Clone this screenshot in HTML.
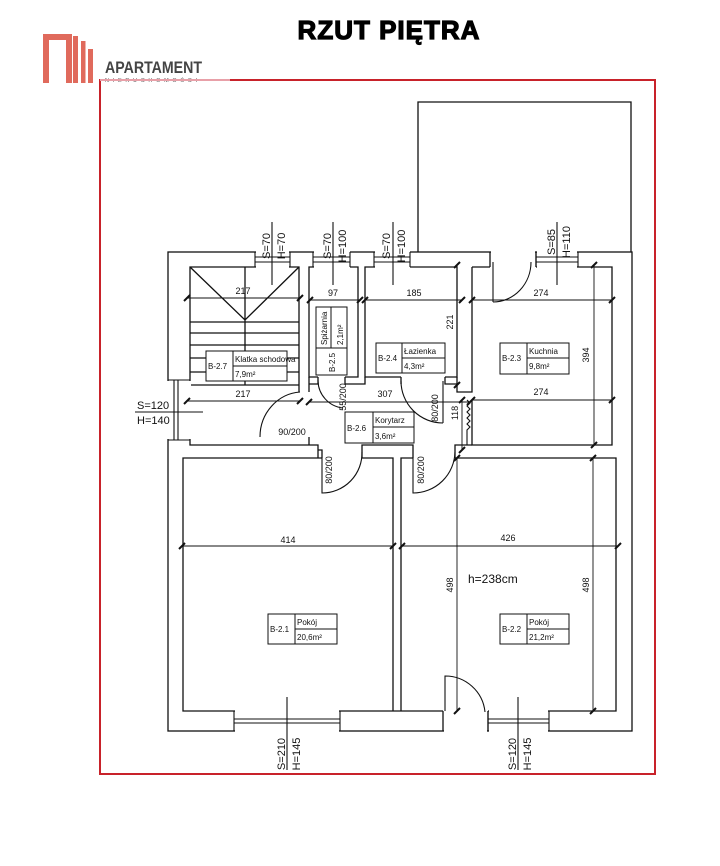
<!DOCTYPE html>
<html><head><meta charset="utf-8"><style>
html,body{margin:0;padding:0;background:#fff;}
svg{display:block;}
text{font-family:"Liberation Sans",sans-serif;fill:#111;}
</style></head><body>
<svg width="720" height="866" viewBox="0 0 720 866" xmlns="http://www.w3.org/2000/svg">
<!-- title -->
<text x="389" y="39" font-size="26" font-weight="bold" text-anchor="middle" stroke="#000" stroke-width="1.2" style="letter-spacing:1px;fill:#000">RZUT PIĘTRA</text>
<!-- logo -->
<path d="M43,83 V34 H72 V83 H66 V40 H49 V83 Z" fill="#e06a5c"/>
<rect x="73" y="36" width="5" height="47" fill="#e06a5c"/>
<rect x="81" y="41" width="4.5" height="42" fill="#e06a5c"/>
<rect x="88" y="49" width="5" height="34" fill="#e06a5c"/>
<text x="105" y="73" font-size="17" font-weight="bold" style="fill:#444" textLength="97" lengthAdjust="spacingAndGlyphs">APARTAMENT</text>
<text x="105" y="82" font-size="5.5" style="fill:#555" textLength="92" lengthAdjust="spacing">NIERUCHOMOŚCI</text>
<!-- red frame -->
<rect x="100" y="80" width="555" height="694" fill="none" stroke="#c8222a" stroke-width="2"/>
<rect x="100" y="79" width="130" height="2" fill="#e8a0a8"/>

<g stroke="#111" stroke-width="1.3" fill="none">
<path d="M418,252 V102 H631 V252"/>
<rect x="168" y="252" width="464" height="479"/>
<path d="M299,392 V267 H190 V445 H318 V458"/>
<path d="M318,377 H309 V267 H358 V377 H345"/>
<path d="M401,377 H365 V267 H457 V377 H445"/>
<path d="M309,377 V392 M309,437 V445 M318,377 V384 H309 M345,377 V384 H365 V377 M401,377 V384 M445,377 V384 H457 V377"/>
<path d="M457,384 V392 H472 V267"/>
<path d="M472,400 V445 H612 V267 H536 M490,267 H472"/>
<path d="M490,252 V267 M536,252 V267"/>
<path d="M362,458 V445 H413 V458 M455,458 V445 H472"/>
<path d="M322,458 V450 H318"/>
<path d="M322,458 H183 V711 H443 M488,711 H616 V458 H455 M413,458 H401 V711 M393,711 V458 H362"/>
<path d="M443,711 V731 M488,711 V731"/>
<path d="M190,267 L245,320 L299,267 M245,267 V385 M190,322 H299 M190,333 H299 M190,345 H299 M190,358 H299 M190,372 H299 M190,385 H299"/>
</g>
<g fill="#fff">
<rect x="256" y="251" width="33" height="17"/>
<rect x="314" y="251" width="36" height="17"/>
<rect x="375" y="251" width="35" height="17"/>
<rect x="491" y="251" width="44" height="17"/>
<rect x="537" y="251" width="40" height="17"/>
<rect x="167" y="381" width="24" height="58"/>
<rect x="235" y="710" width="104" height="22"/>
<rect x="489" y="710" width="59" height="22"/>
<rect x="444" y="710" width="43" height="22"/>
</g>
<g stroke="#111" stroke-width="1.1" fill="none">
<path d="M255,252 V267 M290,252 V267 M255,257 H290 M255,262 H290"/>
<path d="M313,252 V267 M350,252 V267 M313,257 H350 M313,262 H350"/>
<path d="M374,252 V267 M410,252 V267 M374,257 H410 M374,262 H410"/>
<path d="M536,252 V267 M578,252 V267 M536,257 H578 M536,262 H578"/>
<path d="M168,380 H190 M168,440 H190 M174,380 V440 M178,380 V440"/>
<path d="M234,711 V731 M340,711 V731 M234,719 H340 M234,723 H340"/>
<path d="M488,711 V731 M549,711 V731 M488,719 H549 M488,723 H549"/>
<path d="M493,262 V302 M493,302 A38,40 0 0 0 531,262"/>
<path d="M260,437 A43,45 0 0 1 300,392"/>
<path d="M318,380 A28,28 0 0 0 343,408"/>
<path d="M443,381 V423 M401,381 A42,42 0 0 0 443,423"/>
<path d="M322,458 V493 A40,40 0 0 0 362,452"/>
<path d="M413,458 V493 A42,42 0 0 0 455,452"/>
<path d="M445,711 V676 A40,40 0 0 1 485,712"/>
<path d="M467,400 l3,3 l-3,3 l3,3 l-3,3 l3,3 l-3,3 l3,3 l-3,3 l3,3 l-3,3 V445"/>
<path d="M272,222 V285 M333,222 V285 M393,222 V285 M557,222 V285 M287,697 V770 M518,697 V770 M135,412 H203"/>
</g>
<g stroke="#111" stroke-width="0.9">
<path d="M187,298 H300 M310,300 H360 M365,300 H462 M472,300 H612 M187,401 H300 M309,402 H470 M472,400 H612 M182,546 H393 M402,546 H618 M457,265 V385 M462,400 V450 M594,265 V445 M457,458 V711 M593,458 V711"/>
</g>
<g stroke="#111" stroke-width="2">
<path d="M184,301 l6,-6 M297,301 l6,-6 M307,303 l6,-6 M357,303 l6,-6 M362,303 l6,-6 M459,303 l6,-6 M469,303 l6,-6 M609,303 l6,-6
M184,404 l6,-6 M297,404 l6,-6 M306,405 l6,-6 M467,405 l6,-6 M469,403 l6,-6 M609,403 l6,-6
M179,549 l6,-6 M390,549 l6,-6 M399,549 l6,-6 M615,549 l6,-6
M454,268 l6,-6 M454,388 l6,-6 M459,403 l6,-6 M459,453 l6,-6 M591,268 l6,-6 M591,448 l6,-6
M454,461 l6,-6 M454,714 l6,-6 M590,461 l6,-6 M590,714 l6,-6"/>
</g>
<g font-size="9">
<text x="243" y="294" text-anchor="middle">217</text>
<text x="333" y="296" text-anchor="middle">97</text>
<text x="414" y="296" text-anchor="middle">185</text>
<text x="541" y="296" text-anchor="middle">274</text>
<text x="243" y="397" text-anchor="middle">217</text>
<text x="385" y="397" text-anchor="middle">307</text>
<text x="541" y="395" text-anchor="middle">274</text>
<text x="288" y="543" text-anchor="middle">414</text>
<text x="508" y="541" text-anchor="middle">426</text>
<text transform="translate(453,322) rotate(-90)" text-anchor="middle">221</text>
<text transform="translate(458,413) rotate(-90)" text-anchor="middle">118</text>
<text transform="translate(589,355) rotate(-90)" text-anchor="middle">394</text>
<text transform="translate(453,585) rotate(-90)" text-anchor="middle">498</text>
<text transform="translate(589,585) rotate(-90)" text-anchor="middle">498</text>
<text transform="translate(438,408) rotate(-90)" text-anchor="middle">80/200</text>
<text transform="translate(346,397) rotate(-90)" text-anchor="middle">55/200</text>
<text transform="translate(332,470) rotate(-90)" text-anchor="middle">80/200</text>
<text transform="translate(424,470) rotate(-90)" text-anchor="middle">80/200</text>
<text x="292" y="435" text-anchor="middle">90/200</text>
</g>
<text x="468" y="583" font-size="12">h=238cm</text>
<g font-size="11">
<text transform="translate(270,246) rotate(-90)" text-anchor="middle">S=70</text>
<text transform="translate(285,246) rotate(-90)" text-anchor="middle">H=70</text>
<text transform="translate(331,246) rotate(-90)" text-anchor="middle">S=70</text>
<text transform="translate(346,246) rotate(-90)" text-anchor="middle">H=100</text>
<text transform="translate(390,246) rotate(-90)" text-anchor="middle">S=70</text>
<text transform="translate(405,246) rotate(-90)" text-anchor="middle">H=100</text>
<text transform="translate(555,242) rotate(-90)" text-anchor="middle">S=85</text>
<text transform="translate(570,242) rotate(-90)" text-anchor="middle">H=110</text>
<text transform="translate(285,754) rotate(-90)" text-anchor="middle">S=210</text>
<text transform="translate(300,754) rotate(-90)" text-anchor="middle">H=145</text>
<text transform="translate(516,754) rotate(-90)" text-anchor="middle">S=120</text>
<text transform="translate(531,754) rotate(-90)" text-anchor="middle">H=145</text>
<text x="137" y="409">S=120</text>
<text x="137" y="424">H=140</text>
</g>
<g stroke="#111" stroke-width="1" fill="#fff">
<rect x="206" y="351" width="81" height="30"/><path d="M233,351 V381 M233,366 H287"/>
<rect x="316" y="307" width="31" height="68"/><path d="M331,307 V348 M316,348 H347"/>
<rect x="376" y="343" width="69" height="30"/><path d="M402,343 V373 M402,358 H445"/>
<rect x="500" y="343" width="69" height="31"/><path d="M527,343 V374 M527,358 H569"/>
<rect x="345" y="412" width="69" height="31"/><path d="M373,412 V443 M373,427 H414"/>
<rect x="268" y="614" width="69" height="30"/><path d="M295,614 V644 M295,629 H337"/>
<rect x="500" y="614" width="69" height="30"/><path d="M527,614 V644 M527,629 H569"/>
</g>
<g font-size="8">
<text x="208" y="369">B-2.7</text><text x="235" y="362">Klatka schodowa</text><text x="235" y="377">7,9m²</text>
<text transform="translate(327,345) rotate(-90)">Spiżarnia</text>
<text transform="translate(343,345) rotate(-90)">2,1m²</text>
<text transform="translate(335,372) rotate(-90)">B-2.5</text>
<text x="378" y="361">B-2.4</text><text x="404" y="354">Łazienka</text><text x="404" y="369">4,3m²</text>
<text x="502" y="361">B-2.3</text><text x="529" y="354">Kuchnia</text><text x="529" y="369">9,8m²</text>
<text x="347" y="431">B-2.6</text><text x="375" y="423">Korytarz</text><text x="375" y="439">3,6m²</text>
<text x="270" y="632">B-2.1</text><text x="297" y="625">Pokój</text><text x="297" y="640">20,6m²</text>
<text x="502" y="632">B-2.2</text><text x="529" y="625">Pokój</text><text x="529" y="640">21,2m²</text>
</g>
</svg>
</body></html>
